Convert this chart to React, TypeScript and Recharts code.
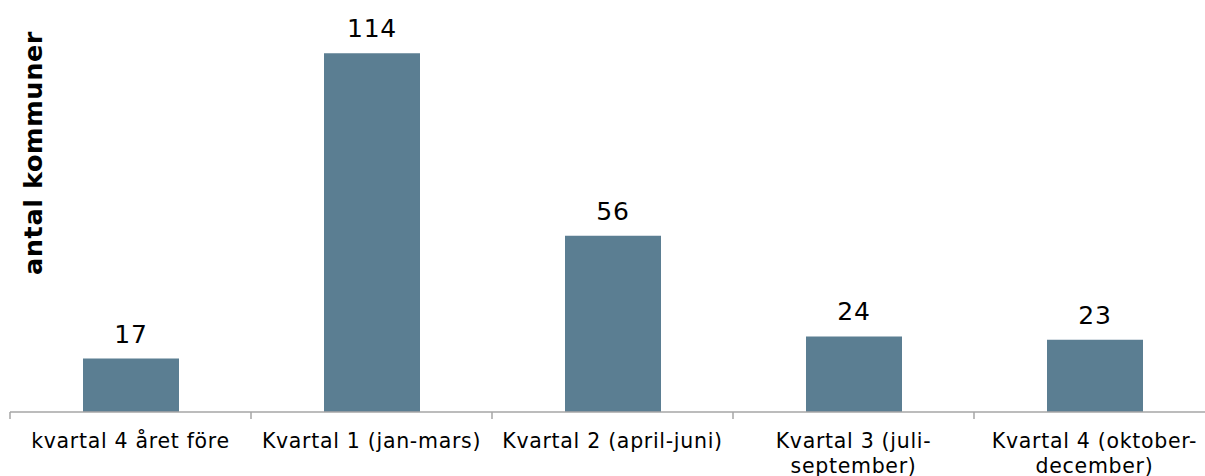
import { BarChart, Bar, XAxis, YAxis, LabelList } from 'recharts'

const categories = [
    'kvartal 4 året före',
    'Kvartal 1 (jan-mars)',
    'Kvartal 2 (april-juni)',
    'Kvartal 3 (juli-\nseptember)',
    'Kvartal 4 (oktober-\ndecember)',
]
const kommuner = [17, 114, 56, 24, 23]
const yDomain = [0, 130]
const yLabel = 'antal kommuner'

const data = categories.map((name, i) => ({ name, value: kommuner[i] }))

const FONT = '"DejaVu Sans", Verdana, sans-serif'
const HALF_BAND = 241 / 2

function CategoryTick(props: any) {
    const { x, y, payload } = props
    const lines = String(payload.value).split('\n')
    return (
        <g>
            <line x1={x - HALF_BAND} y1={y} x2={x - HALF_BAND} y2={y + 7} stroke="#A6A6A6" strokeWidth={1.5} />
            <text
                x={x}
                y={y + 36}
                textAnchor="middle"
                fontSize={20.5}
                letterSpacing={0.7}
                fill="#000"
                fontFamily={FONT}
            >
                {lines.map((l, i) => (
                    <tspan key={i} x={x} dy={i === 0 ? 0 : 25}>
                        {l}
                    </tspan>
                ))}
            </text>
        </g>
    )
}

export default function App() {
    return (
        <div style={{ position: 'absolute', left: 0, top: 0, width: 1205, height: 476, overflow: 'hidden', background: '#fff' }}>
            <BarChart
                width={1215}
                height={476}
                data={data}
                margin={{ top: 3, right: 0, left: 10, bottom: 0 }}
                barSize={96}
            >
                <XAxis
                    dataKey="name"
                    height={64}
                    interval={0}
                    tickLine={false}
                    tickSize={0}
                    tickMargin={0}
                    axisLine={{ stroke: '#A6A6A6', strokeWidth: 1.5 }}
                    tick={<CategoryTick />}
                />
                <YAxis hide domain={yDomain} />
                <Bar dataKey="value" fill="#5B7E92" isAnimationActive={false}>
                    <LabelList
                        dataKey="value"
                        position="top"
                        offset={16}
                        fill="#000"
                        fontSize={25}
                        letterSpacing={0.8}
                        fontFamily={FONT}
                    />
                </Bar>
            </BarChart>
            <svg width={80} height={476} style={{ position: 'absolute', left: 0, top: 0 }}>
                <text
                    x={0}
                    y={0}
                    transform="translate(42,153) rotate(-90)"
                    textAnchor="middle"
                    fontSize={25.5}
                    letterSpacing={0.6}
                    fontWeight="bold"
                    fill="#000"
                    fontFamily={FONT}
                >
                    {yLabel}
                </text>
            </svg>
        </div>
    )
}
